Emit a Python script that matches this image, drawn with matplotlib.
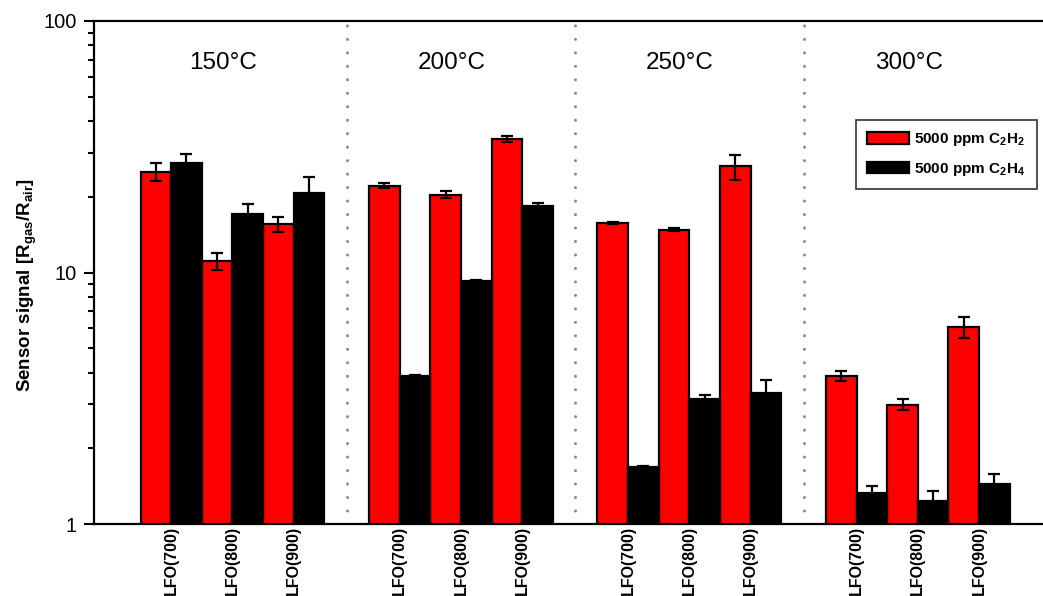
import matplotlib
matplotlib.use("Agg")
import matplotlib.pyplot as plt
from matplotlib.patches import Patch
from matplotlib.ticker import FixedLocator, LogLocator, NullFormatter

plt.rcParams["font.family"] = ["Liberation Sans", "DejaVu Sans"]
plt.rcParams["mathtext.fontset"] = "custom"
plt.rcParams["mathtext.rm"] = "Liberation Sans"
plt.rcParams["mathtext.bf"] = "Liberation Sans:bold"

# ---- data -------------------------------------------------------------
temperatures = ["150°C", "200°C", "250°C", "300°C"]
samples = ["LFO(700)", "LFO(800)", "LFO(900)"]

# values ordered temperature by temperature, sample by sample
c2h2 = [25.2, 11.1, 15.6, 22.1, 20.4, 33.9, 15.7, 14.8, 26.4, 3.88, 2.98, 6.05]
c2h2_err = [2.0, 0.85, 1.05, 0.5, 0.6, 0.9, 0.15, 0.2, 3.0, 0.18, 0.15, 0.58]
c2h4 = [27.3, 17.1, 20.8, 3.88, 9.25, 18.4, 1.685, 3.14, 3.32, 1.325, 1.235, 1.44]
c2h4_err = [2.4, 1.7, 3.2, 0.05, 0.08, 0.5, 0.02, 0.12, 0.42, 0.095, 0.12, 0.14]

series_labels = [r"5000 ppm C$_\mathregular{2}$H$_\mathregular{2}$",
                 r"5000 ppm C$_\mathregular{2}$H$_\mathregular{4}$"]
y_ticks = [1, 10, 100]

# ---- layout -----------------------------------------------------------
group_step = 3.727      # distance between temperature groups (pair widths)
bar_w = 0.5

W, H = 1043, 596
fig = plt.figure(figsize=(W / 100, H / 100), dpi=100)
ax = fig.add_axes([94 / W, 72 / H, 1.06 - 94 / W, 503 / H])

lefts = []
for g in range(len(temperatures)):
    for s in range(len(samples)):
        lefts.append(g * group_step + s)

red_x = [x + bar_w / 2 for x in lefts]
blk_x = [x + 1.5 * bar_w for x in lefts]

ax.bar(red_x, c2h2, width=bar_w, color="#ff0000", edgecolor="black",
       linewidth=1.6, zorder=2, label=series_labels[0])
ax.bar(blk_x, c2h4, width=bar_w, color="black", edgecolor="black",
       linewidth=1.6, zorder=2, label=series_labels[1])

err_style = dict(fmt="none", ecolor="black", elinewidth=1.6, capsize=4.5,
                 capthick=1.6, zorder=3)
ax.errorbar(red_x, c2h2, yerr=c2h2_err, **err_style)
ax.errorbar(blk_x, c2h4, yerr=c2h4_err, **err_style)

# dotted separators between temperature groups
for g in range(len(temperatures) - 1):
    xs = g * group_step + len(samples) + (group_step - len(samples)) / 2
    ax.axvline(xs, color="#8a8a8a", linewidth=2.2, linestyle=(0, (0.01, 4.4)),
               dash_capstyle="round", zorder=1)

# temperature captions
for g, t in enumerate(temperatures):
    ax.text(g * group_step + 1.35, 68, t, ha="center", va="center",
            fontsize=17.5)

# ---- axes -------------------------------------------------------------
ax.set_yscale("log")
ax.set_ylim(1, 100)
ax.set_xlim(-0.7586, -0.7586 + (1.06 - 94 / W) * W / 61.3)

ax.yaxis.set_major_locator(FixedLocator(y_ticks))
ax.set_yticklabels([str(v) for v in y_ticks])
ax.yaxis.set_minor_locator(LogLocator(base=10, subs=range(2, 10)))
ax.yaxis.set_minor_formatter(NullFormatter())
ax.tick_params(axis="y", which="major", direction="out", length=7.5,
               width=1.5, labelsize=14.5, pad=5)
ax.tick_params(axis="y", which="minor", direction="out", length=4.3,
               width=1.5)

ax.set_xticks([x + bar_w for x in lefts])
ax.set_xticklabels(samples * len(temperatures), rotation=90, fontsize=11.5,
                   fontweight="bold", va="top")
ax.tick_params(axis="x", length=0, pad=1.5)

for side in ["left", "top", "bottom", "right"]:
    ax.spines[side].set_linewidth(1.6)

fig.text(27 / W, 1 - 285 / H,
         r"Sensor signal [R$_\mathregular{gas}$/R$_\mathregular{air}$]",
         rotation=90, ha="center", va="center", fontsize=13.5,
         fontweight="bold")

handles = [Patch(facecolor="#ff0000", edgecolor="black", linewidth=1.6),
           Patch(facecolor="black", edgecolor="black", linewidth=1.6)]
leg = ax.legend(handles, series_labels, loc="upper left",
                bbox_to_anchor=(856 / W, 1 - 120 / H),
                bbox_transform=fig.transFigure, borderaxespad=0,
                fancybox=False, framealpha=1, edgecolor="#333333",
                prop={"weight": "bold", "size": 11},
                handlelength=2.7, handleheight=0.8, handletextpad=0.35,
                labelspacing=0.8, borderpad=0.75)
leg.get_frame().set_linewidth(1.2)

fig.savefig("out.png", dpi=100)
